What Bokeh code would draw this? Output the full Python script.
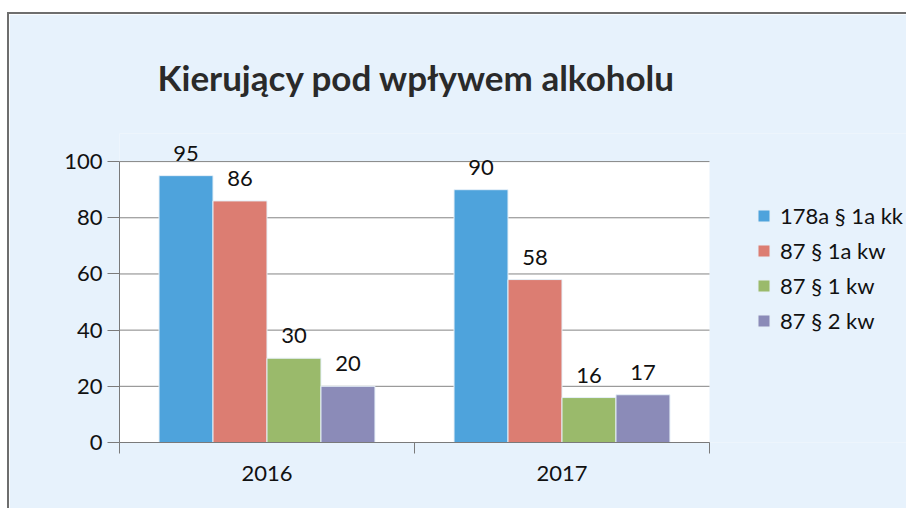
from bokeh.plotting import figure
from bokeh.models import ColumnDataSource, FixedTicker, Legend, LegendItem, Range1d
from bokeh.transform import dodge
from bokeh.core.properties import value
from bokeh.embed import file_html
from bokeh.resources import INLINE

# ---- data ----
years = ["2016", "2017"]
series = ["178a § 1a kk", "87 § 1a kw", "87 § 1 kw", "87 § 2 kw"]
v_178a_1a_kk = [95, 90]
v_87_1a_kw = [86, 58]
v_87_1_kw = [30, 16]
v_87_2_kw = [20, 17]
y_ticks = [0, 20, 40, 60, 80, 100]

values = [v_178a_1a_kk, v_87_1a_kw, v_87_1_kw, v_87_2_kw]
colors = ["#4ea3dc", "#dc7d72", "#9aba6b", "#8b8bb8"]
FONT = "Lato"
GRID = "#858585"

n = len(years)
ymax = max(y_ticks)
xs = [i + 0.5 for i in range(n)]
data = {"x": xs}
for k, vals in enumerate(values):
    data["v%d" % k] = vals
    data["t%d" % k] = [str(v) for v in vals]
src = ColumnDataSource(data)

W, H = 899, 496
p = figure(width=W, height=H, output_backend="svg", toolbar_location=None,
           x_range=Range1d(0, n * 1.3373), y_range=Range1d(0, ymax * 1.10),
           min_border_left=110, min_border_right=0,
           min_border_top=119, min_border_bottom=68,
           background_fill_color="#e7f2fc", border_fill_color="#e7f2fc",
           outline_line_color=None, margin=(12, 0, 0, 7),
           styles={"border-left": "2px solid #6e6e6e", "border-top": "2px solid #6e6e6e"})

# white plotting area and horizontal grid lines (bounded to the data area)
p.quad(left=0, right=n, bottom=0, top=ymax, fill_color="white", line_color=None, level="underlay")
p.segment(x0=0, x1=n, y0=y_ticks, y1=y_ticks, line_color=GRID, line_width=1, level="underlay")

bw = 0.183
offsets = [-1.5 * bw, -0.5 * bw, 0.5 * bw, 1.5 * bw]
items = []
for k in range(4):
    r = p.vbar(x=dodge("x", offsets[k], range=p.x_range), top="v%d" % k, width=bw,
               source=src, fill_color=colors[k], line_color="#e6f0f8", line_width=1)
    p.text(x=dodge("x", offsets[k], range=p.x_range), y="v%d" % k, text="t%d" % k,
           source=src, text_align="center", text_baseline="bottom", y_offset=-15,
           text_font=value(FONT), text_font_size="22px", text_color="#111111")
    items.append(LegendItem(label=series[k], renderers=[r]))

# title
p.title.text = "Kierujący pod wpływem alkoholu"
p.title.text_font = FONT
p.title.text_font_style = "bold"
p.title.text_font_size = "35px"
p.title.text_color = "#2a2a2a"
p.title.align = "left"
p.title.offset = 38
p.title.standoff = 72

# y axis
p.yaxis.ticker = FixedTicker(ticks=y_ticks)
p.yaxis.bounds = (0, ymax)
p.yaxis.major_tick_in = 0
p.yaxis.major_tick_out = 12
p.yaxis.minor_tick_line_color = None
p.yaxis.axis_line_color = "#7a7a7a"
p.yaxis.major_tick_line_color = "#7a7a7a"
p.yaxis.major_label_text_font = FONT
p.yaxis.major_label_text_font_size = "22px"
p.yaxis.major_label_text_color = "#111111"
p.yaxis.major_label_standoff = 5

# x axis: labels at category centres, ticks at category boundaries
p.xaxis.ticker = FixedTicker(ticks=xs, minor_ticks=list(range(n + 1)))
p.xaxis.bounds = (0, n)
p.xaxis.major_label_overrides = {x: y for x, y in zip(xs, years)}
p.xaxis.major_tick_line_color = None
p.xaxis.minor_tick_line_color = "#7a7a7a"
p.xaxis.minor_tick_in = 0
p.xaxis.minor_tick_out = 11
p.xaxis.axis_line_color = "#7a7a7a"
p.xaxis.major_label_text_font = FONT
p.xaxis.major_label_text_font_size = "22px"
p.xaxis.major_label_text_color = "#111111"
p.xaxis.major_label_standoff = 12

p.xgrid.grid_line_color = None
p.ygrid.grid_line_color = None

legend = Legend(items=items, location=(637, 108), orientation="vertical",
                label_text_font=FONT, label_text_font_size="22px", label_text_color="#111111",
                glyph_width=15, glyph_height=15, label_height=15, spacing=8,
                padding=0, margin=0, border_line_color=None, background_fill_alpha=0,
                label_standoff=9)
p.add_layout(legend, "center")

open("out.html", "w").write(file_html(p, INLINE))
